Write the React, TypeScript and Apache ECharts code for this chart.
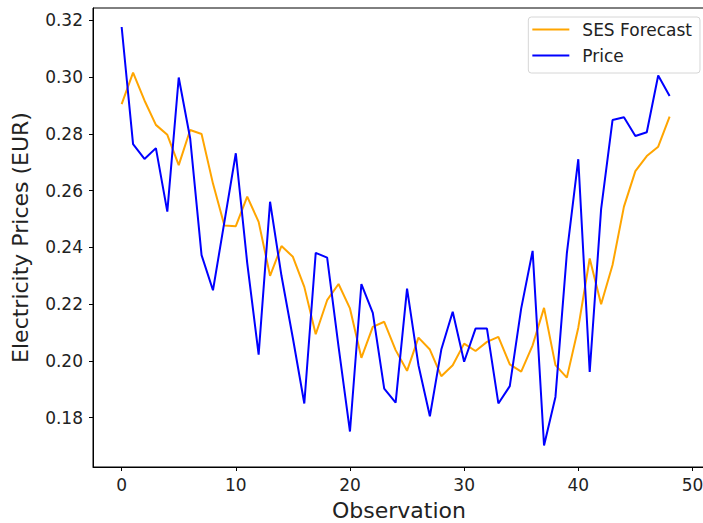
import React, { useEffect, useRef } from "react";
import * as echarts from "echarts";

const priceValues = [
  0.3177, 0.2764, 0.2712, 0.2750, 0.2526, 0.2999, 0.2785, 0.2373, 0.2249, 0.2490,
  0.2732, 0.2345, 0.2022, 0.2561, 0.2300, 0.2080, 0.1850, 0.2381, 0.2364, 0.2050,
  0.1751, 0.2271, 0.2169, 0.1902, 0.1853, 0.2255, 0.1985, 0.1805, 0.2040, 0.2173,
  0.1997, 0.2114, 0.2114, 0.1850, 0.1911, 0.2185, 0.2388, 0.1702, 0.1873, 0.2380,
  0.2711, 0.1961, 0.2535, 0.2849, 0.2859, 0.2793, 0.2806, 0.3006, 0.2934,
];

const sesValues = [
  0.2905, 0.3016, 0.2918, 0.2832, 0.2797, 0.2690, 0.2814, 0.2800, 0.2625, 0.2477,
  0.2475, 0.2579, 0.2490, 0.2300, 0.2405, 0.2367, 0.2261, 0.2094, 0.2214, 0.2271,
  0.2185, 0.2011, 0.2120, 0.2138, 0.2038, 0.1965, 0.2082, 0.2040, 0.1946, 0.1985,
  0.2061, 0.2035, 0.2067, 0.2085, 0.1988, 0.1962, 0.2055, 0.2187, 0.1985, 0.1941,
  0.2117, 0.2361, 0.2200, 0.2338, 0.2544, 0.2669, 0.2722, 0.2755, 0.2861,
];

const xTicks = [0, 10, 20, 30, 40, 50];
const yTicks = [0.18, 0.2, 0.22, 0.24, 0.26, 0.28, 0.3, 0.32];

const FONT = "DejaVu Sans";

export default function App() {
  const ref = useRef<HTMLDivElement>(null);
  useEffect(() => {
    if (!ref.current) return;
    const chart = echarts.init(ref.current, undefined, { renderer: "svg" });
    chart.setOption({
      animation: false,
      backgroundColor: "#ffffff",
      textStyle: { fontFamily: FONT },
      grid: {
        left: 93,
        top: 8,
        width: 612,
        height: 459,
        containLabel: false,
        outerBoundsMode: "none",
        show: true,
        borderColor: "#000000",
        borderWidth: 1,
        backgroundColor: "transparent",
      },
      legend: {
        right: 3,
        top: 17,
        orient: "vertical",
        icon: "rect",
        itemWidth: 37,
        itemHeight: 2,
        itemGap: 9,
        padding: [4, 8, 9, 4],
        borderColor: "#d6d6d6",
        borderWidth: 1,
        borderRadius: 3,
        backgroundColor: "#ffffff",
        textStyle: { fontFamily: FONT, fontSize: 17, color: "#222", padding: [0, 0, 0, 8] },
        data: ["SES Forecast", "Price"],
      },
      xAxis: {
        type: "value",
        min: -2.51,
        max: 51.1,
        name: "Observation",
        nameLocation: "middle",
        nameGap: 32,
        nameTextStyle: { fontFamily: FONT, fontSize: 22, color: "#222" },
        splitLine: { show: false },
        axisLine: { show: true, onZero: false, lineStyle: { color: "#000", width: 1 } },
        axisTick: { show: true, length: 4, lineStyle: { color: "#000" }, customValues: xTicks },
        axisLabel: {
          fontFamily: FONT,
          fontSize: 17,
          color: "#222",
          margin: 9,
          customValues: xTicks,
          formatter: (v: number) => String(v),
        },
      },
      yAxis: {
        type: "value",
        min: 0.1626,
        max: 0.3244,
        name: "Electricity Prices (EUR)",
        nameLocation: "middle",
        nameGap: 62,
        nameTextStyle: { fontFamily: FONT, fontSize: 22, color: "#222" },
        splitLine: { show: false },
        axisLine: { show: true, onZero: false, lineStyle: { color: "#000", width: 1 } },
        axisTick: { show: true, length: 4, lineStyle: { color: "#000" }, customValues: yTicks },
        axisLabel: {
          fontFamily: FONT,
          fontSize: 17,
          color: "#222",
          margin: 10,
          customValues: yTicks,
          formatter: (v: number) => v.toFixed(2),
        },
      },
      series: [
        {
          name: "SES Forecast",
          type: "line",
          data: sesValues.map((v, i) => [i, v]),
          showSymbol: false,
          symbol: "none",
          lineStyle: { color: "#FFA500", width: 2 },
          itemStyle: { color: "#FFA500" },
        },
        {
          name: "Price",
          type: "line",
          data: priceValues.map((v, i) => [i, v]),
          showSymbol: false,
          symbol: "none",
          lineStyle: { color: "#0000FF", width: 2 },
          itemStyle: { color: "#0000FF" },
        },
      ],
    });
    return () => chart.dispose();
  }, []);
  return (
    <div
      ref={ref}
      style={{ position: "fixed", left: 0, top: 0, width: 703, height: 523 }}
    />
  );
}
